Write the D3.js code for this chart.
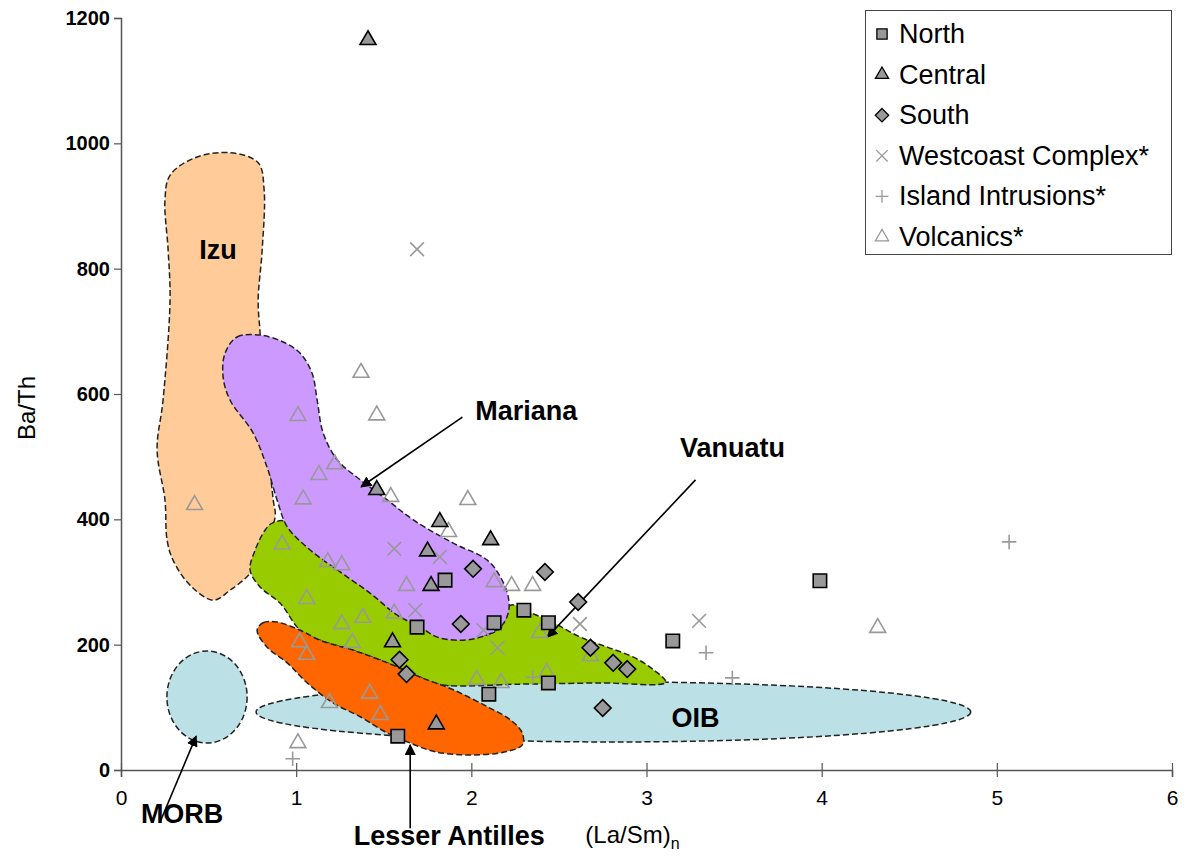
<!DOCTYPE html>
<html>
<head>
<meta charset="utf-8">
<script src="https://cdn.jsdelivr.net/npm/d3@7"></script>
<style>
  html, body { margin: 0; padding: 0; background: #fff; }
  svg { display: block; font-family: Arial, "Liberation Sans", sans-serif; }
</style>
</head>
<body>
<svg id="chart" width="1186" height="865"></svg>
<script>
// Axis ticks
const xTicks = [0, 1, 2, 3, 4, 5, 6];
const yTicks = [0, 200, 400, 600, 800, 1000, 1200];

// Sample series: [(La/Sm)n, Ba/Th]
const northPts = [[1.85,303],[1.69,228],[2.13,235],[2.30,255],[2.44,235],[2.44,139],[2.10,121],[3.15,206],[3.99,302],[1.58,54]];
const centralPts = [[1.41,1165],[1.46,447],[1.82,396],[2.11,367],[1.75,349],[1.77,294],[1.55,204],[1.80,73]];
const southPts = [[2.01,321],[2.42,316],[2.61,268],[1.94,233],[2.68,195],[2.81,171],[2.89,161],[2.75,99],[1.59,176],[1.63,153]];
const westcoastPts = [[1.69,831],[1.56,353],[1.68,255],[1.82,340],[2.07,223],[2.15,195],[2.62,233],[3.30,238]];
const islandPts = [[0.98,18],[2.35,148],[3.34,187],[3.49,147],[5.07,364]];
const volcanicsPts = [[1.37,634],[1.46,566],[1.01,565],[1.22,488],[1.13,471],[1.04,432],[0.42,423],[1.54,436],[0.92,360],
  [1.98,431],[1.87,380],[1.18,332],[1.26,327],[1.06,273],[1.26,233],[1.38,243],[1.32,203],[1.02,204],[1.06,184],
  [1.63,294],[1.56,250],[1.42,122],[1.19,107],[1.48,88],[1.01,43],[2.13,300],[2.23,294],[2.35,294],[2.39,219],
  [2.68,182],[2.03,144],[2.17,139],[2.43,155],[4.32,227]];

// Arc-setting fields (outline vertices in data units)
const izuField = [[0.28,949],[0.423,977],[0.623,985],[0.783,969],[0.817,926],[0.806,830],[0.783,750],[0.794,697],
  [0.823,559],[0.869,431],[0.88,404],[0.806,351],[0.737,314],[0.623,287],[0.526,271],[0.394,295],[0.297,335],
  [0.263,367],[0.251,431],[0.206,511],[0.24,590],[0.28,750],[0.269,830],[0.251,910]];
const marianaField = [[0.594,665],[0.663,691],[0.794,694],[0.926,683],[1.023,665],[1.091,633],[1.12,590],[1.154,538],
  [1.234,495],[1.366,463],[1.52,431],[1.669,399],[1.897,362],[2.091,335],[2.166,308],[2.211,276],[2.211,251],
  [2.166,228],[2.051,212],[1.937,207],[1.806,212],[1.709,228],[1.577,247],[1.423,282],[1.251,316],[1.08,351],
  [0.949,388],[0.891,431],[0.834,483],[0.754,538],[0.623,590],[0.583,627]];
const vanuatuField = [[0.863,394],[0.937,397],[1.023,367],[1.251,320],[1.423,288],[1.577,253],[1.709,235],[1.823,218],
  [1.994,212],[2.166,226],[2.223,263],[2.337,251],[2.469,235],[2.623,212],[2.777,196],[2.926,180],[3.04,160],
  [3.109,140],[2.737,139],[2.28,137],[1.823,136],[1.709,148],[1.52,171],[1.326,191],[1.137,207],[1.023,223],
  [0.909,266],[0.794,292],[0.737,319],[0.766,351],[0.823,383]];
const antillesField = [[0.777,223],[0.811,235],[0.891,236],[1.023,223],[1.137,207],[1.326,191],[1.52,171],[1.709,148],
  [1.897,128],[2.091,101],[2.223,80],[2.291,59],[2.291,40],[2.194,29],[1.994,24],[1.794,29],[1.651,43],[1.52,59],
  [1.366,85],[1.211,107],[1.063,139],[0.949,171],[0.834,196]];
// Ellipses: [centre x, centre y, radius x, radius y]
const oibField = [2.811, 92.6, 2.04, 47.9];
const morbField = [0.491, 116.5, 0.229, 73.4];

// Field labels and pointers (data units)
const fieldLabels = [
  { text: "Izu", x: 0.554, y: 815 },
  { text: "Mariana", x: 2.314, y: 558 },
  { text: "Vanuatu", x: 3.491, y: 499 },
  { text: "OIB", x: 3.28, y: 69 },
  { text: "MORB", x: 0.349, y: -84 },
  { text: "Lesser Antilles", x: 1.874, y: -120 }
];
const pointers = [
  { from: [1.949, 563], to: [1.371, 452] },
  { from: [3.28, 463], to: [2.434, 212] },
  { from: [0.223, -83], to: [0.429, 54] },
  { from: [1.651, -93], to: [1.651, 40] }
];

const legendItems = ["North", "Central", "South", "Westcoast Complex*", "Island Intrusions*", "Volcanics*"];

const svg = d3.select("#chart");
const margin = { left: 121, right: 14, top: 18, bottom: 95 };
const W = 1186, H = 865;

const x = d3.scaleLinear().domain([0, 6]).range([margin.left, W - margin.right]);
const y = d3.scaleLinear().domain([0, 1200]).range([H - margin.bottom, margin.top]);

const line = d3.line().x(d => x(d[0])).y(d => y(d[1])).curve(d3.curveCatmullRomClosed.alpha(0.5));
const dash = "6,3";

function ellipse(e, fill) {
  svg.append("ellipse")
    .attr("cx", x(e[0])).attr("cy", y(e[1]))
    .attr("rx", x(e[0] + e[2]) - x(e[0]))
    .attr("ry", y(e[1] - e[3]) - y(e[1]))
    .attr("fill", fill).attr("stroke", "#222").attr("stroke-width", 1.5).attr("stroke-dasharray", dash);
}
function field(pts, fill) {
  svg.append("path").attr("d", line(pts))
    .attr("fill", fill).attr("stroke", "#222").attr("stroke-width", 1.5).attr("stroke-dasharray", dash);
}

ellipse(oibField, "#BBE0E5");
ellipse(morbField, "#BBE0E5");
field(izuField, "#FFCC99");
field(vanuatuField, "#99CC00");
field(antillesField, "#FF6600");
field(marianaField, "#CC99FF");

// Axes
const axisColor = "#555";
const gy = svg.append("g").attr("transform", `translate(${x(0)},0)`)
  .call(d3.axisLeft(y).tickValues(yTicks).tickSize(7).tickFormat(d3.format("d")));
gy.select(".domain").attr("stroke", axisColor).attr("stroke-width", 1.5);
gy.selectAll(".tick line").attr("stroke", axisColor).attr("stroke-width", 1.2);
gy.selectAll(".tick text").attr("font-size", 20).attr("font-weight", "bold")
  .attr("font-family", "Arial, 'Liberation Sans', sans-serif").attr("fill", "#000").attr("x", -11);

const gx = svg.append("g").attr("transform", `translate(0,${y(0)})`)
  .call(d3.axisBottom(x).tickValues(xTicks).tickSize(7).tickFormat(d3.format("d")));
gx.select(".domain").attr("stroke", axisColor).attr("stroke-width", 1.5);
gx.selectAll(".tick line").attr("stroke", axisColor).attr("stroke-width", 1.2).attr("y1", -7);
gx.selectAll(".tick text").attr("font-size", 21)
  .attr("font-family", "Arial, 'Liberation Sans', sans-serif").attr("fill", "#000").attr("y", 20);

// Axis titles
svg.append("text").attr("transform", `translate(35,${y(600) + 14}) rotate(-90)`)
  .attr("text-anchor", "middle").attr("font-size", 24).text("Ba/Th");
const xt = svg.append("text").attr("x", x(2.92)).attr("y", 843).attr("text-anchor", "middle").attr("font-size", 24);
xt.append("tspan").text("(La/Sm)");
xt.append("tspan").attr("font-size", 16).attr("dy", 6).text("n");

// Pointers
const defs = svg.append("defs");
defs.append("marker").attr("id", "head").attr("viewBox", "0 0 10 10").attr("refX", 9).attr("refY", 5)
  .attr("markerWidth", 7).attr("markerHeight", 7).attr("orient", "auto")
  .append("path").attr("d", "M0,0 L10,5 L0,10 z").attr("fill", "#000");
svg.selectAll(".ptr").data(pointers).join("line").attr("class", "ptr")
  .attr("x1", d => x(d.from[0])).attr("y1", d => y(d.from[1]))
  .attr("x2", d => x(d.to[0])).attr("y2", d => y(d.to[1]))
  .attr("stroke", "#000").attr("stroke-width", 1.6).attr("marker-end", "url(#head)");

// Field labels
svg.selectAll(".flab").data(fieldLabels).join("text").attr("class", "flab")
  .attr("x", d => x(d.x)).attr("y", d => y(d.y)).attr("text-anchor", "middle")
  .attr("font-size", 27).attr("font-weight", "bold").attr("fill", "#000").text(d => d.text);

// Symbol shapes
const diamond = { draw(ctx, size) { const r = Math.sqrt(size / 2); ctx.moveTo(0, -r); ctx.lineTo(r, 0); ctx.lineTo(0, r); ctx.lineTo(-r, 0); ctx.closePath(); } };
const xMark = { draw(ctx, size) { const r = Math.sqrt(size) / 2; ctx.moveTo(-r, -r); ctx.lineTo(r, r); ctx.moveTo(r, -r); ctx.lineTo(-r, r); } };
const plusMark = { draw(ctx, size) { const r = Math.sqrt(size) / 2; ctx.moveTo(-r, 0); ctx.lineTo(r, 0); ctx.moveTo(0, -r); ctx.lineTo(0, r); } };

const series = [
  { name: "Volcanics*", pts: volcanicsPts, type: d3.symbolTriangle, size: 110, fill: "none", stroke: "#999", sw: 1.6, lsize: 75 },
  { name: "Westcoast Complex*", pts: westcoastPts, type: xMark, size: 190, fill: "none", stroke: "#999", sw: 1.6, lsize: 130 },
  { name: "Island Intrusions*", pts: islandPts, type: plusMark, size: 210, fill: "none", stroke: "#999", sw: 1.6, lsize: 160 },
  { name: "North", pts: northPts, type: d3.symbolSquare, size: 180, fill: "#999", stroke: "#000", sw: 1.6, lsize: 105 },
  { name: "Central", pts: centralPts, type: d3.symbolTriangle, size: 110, fill: "#999", stroke: "#000", sw: 1.6, lsize: 75 },
  { name: "South", pts: southPts, type: diamond, size: 140, fill: "#999", stroke: "#000", sw: 1.6, lsize: 90 }
];

series.forEach(s => {
  svg.append("g").selectAll("path").data(s.pts).join("path")
    .attr("transform", d => `translate(${x(d[0])},${y(d[1])})`)
    .attr("d", d3.symbol().type(s.type).size(s.size))
    .attr("fill", s.fill).attr("stroke", s.stroke).attr("stroke-width", s.sw);
});

// Legend
const lg = svg.append("g");
lg.append("rect").attr("x", 865.5).attr("y", 10.5).attr("width", 306).attr("height", 244)
  .attr("fill", "#fff").attr("stroke", "#444").attr("stroke-width", 1);
legendItems.forEach((name, i) => {
  const s = series.find(t => t.name === name);
  const cy = 34 + i * 40.6;
  lg.append("path").attr("transform", `translate(882,${cy})`)
    .attr("d", d3.symbol().type(s.type).size(s.lsize))
    .attr("fill", s.fill).attr("stroke", s.stroke).attr("stroke-width", 1.3);
  lg.append("text").attr("x", 899).attr("y", cy + 9).attr("font-size", 27).attr("fill", "#000").text(name);
});
</script>
</body>
</html>
